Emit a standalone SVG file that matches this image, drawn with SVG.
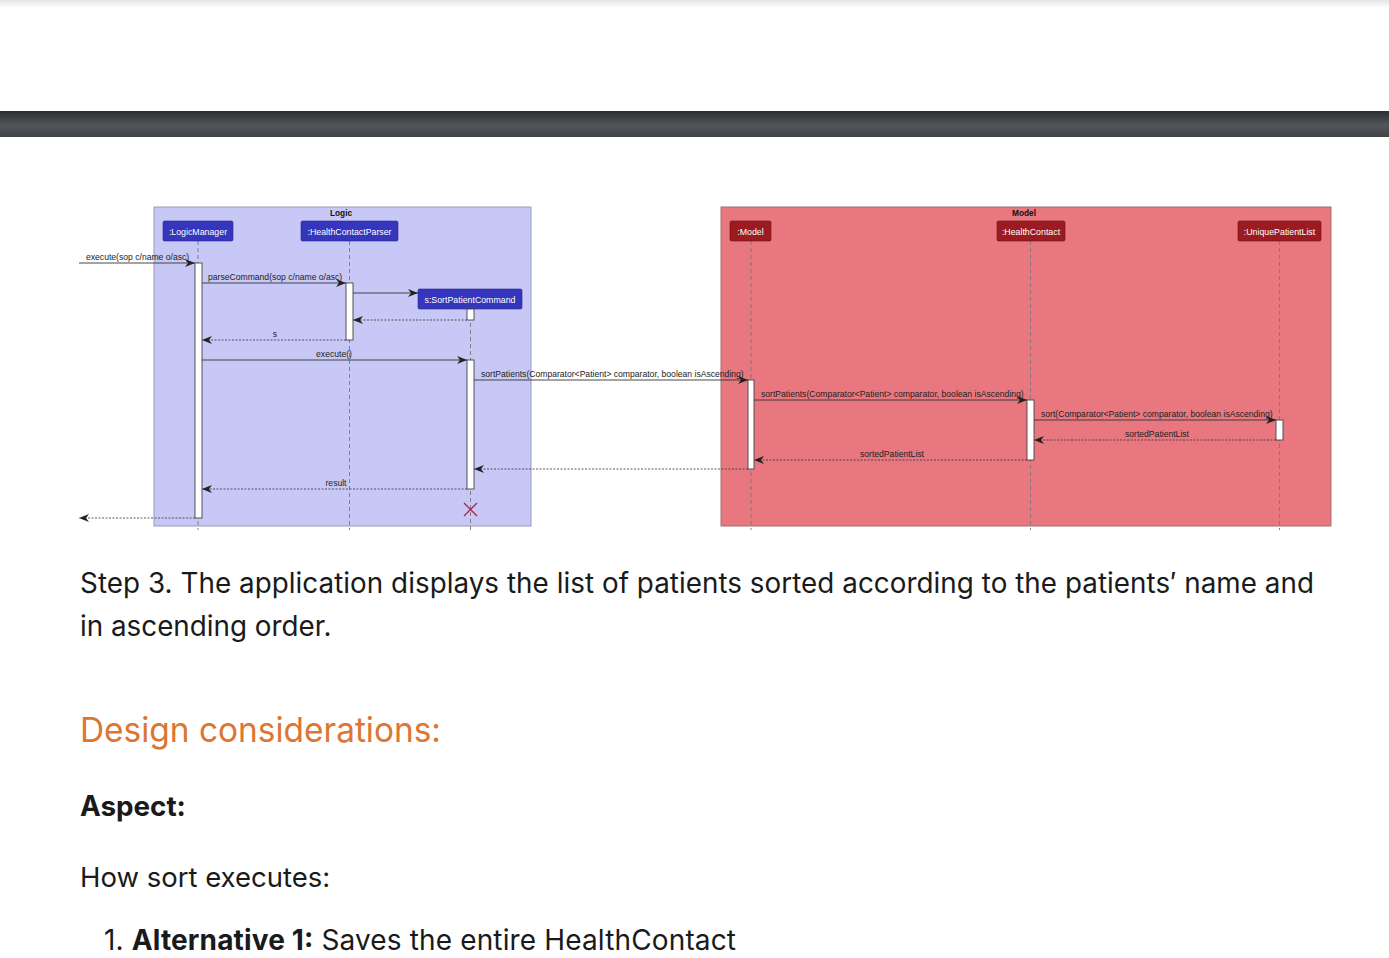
<svg xmlns="http://www.w3.org/2000/svg" width="1389" height="958" viewBox="0 0 1389 958">
<defs>
<linearGradient id="bar" x1="0" y1="0" x2="0" y2="1">
<stop offset="0" stop-color="#2c2d30"/>
<stop offset="0.55" stop-color="#52565a"/>
<stop offset="1" stop-color="#3f4245"/>
</linearGradient>
<linearGradient id="topshade" x1="0" y1="0" x2="0" y2="1">
<stop offset="0" stop-color="#e6e6e6"/>
<stop offset="1" stop-color="#ffffff"/>
</linearGradient>
<marker id="ah" viewBox="0 0 10 8" refX="10" refY="4" markerWidth="10" markerHeight="8" markerUnits="userSpaceOnUse" orient="auto">
<path d="M0,0 L10,4 L0,8 L3,4 z" fill="#222"/>
</marker>
</defs>
<style>
.lt{font-family:"Liberation Sans",Arial,sans-serif;font-size:8.6px;fill:#222}
.pt{font-family:"Liberation Sans",Arial,sans-serif;font-size:8.8px;fill:#fff}
.ttl{font-family:"Liberation Sans",Arial,sans-serif;font-size:8.3px;font-weight:bold;fill:#111}
.pl{fill:#3535bd;stroke:#2a2a90;stroke-width:0.6}
.pm{fill:#9b1b20;stroke:#701015;stroke-width:0.6}
.life{stroke:#777;stroke-width:0.9;stroke-dasharray:4 3;fill:none}
.act{fill:#fff;stroke:#444;stroke-width:0.9}
.msg{stroke:#333;stroke-width:0.9;fill:none;marker-end:url(#ah)}
.ret{stroke:#333;stroke-width:0.8;stroke-dasharray:2 1.5;fill:none;marker-end:url(#ah)}
.body{font-family:Inter,"Noto Sans",sans-serif;fill:#1a1a1a}
</style>
<rect x="0" y="0" width="1389" height="958" fill="#fff"/>
<rect x="0" y="0" width="1389" height="8" fill="url(#topshade)"/>
<rect x="0" y="111" width="1389" height="26" fill="url(#bar)"/>

<g id="logic-box">
<rect x="154" y="207" width="377" height="319" fill="#c8c8f6" stroke="#9a9ab8" stroke-width="1"/>
<text class="ttl" x="341" y="215.5" text-anchor="middle">Logic</text>
</g>
<g id="model-box">
<rect x="721" y="207" width="610" height="319" fill="#e8777f" stroke="#a07070" stroke-width="1"/>
<text class="ttl" x="1024" y="215.5" text-anchor="middle">Model</text>
</g>

<g id="lifelines">
<line class="life" x1="198" y1="241" x2="198" y2="530"/>
<line class="life" x1="349.5" y1="241" x2="349.5" y2="530"/>
<line class="life" x1="470.5" y1="309" x2="470.5" y2="530"/>
<line class="life" x1="751" y1="241" x2="751" y2="530"/>
<line class="life" x1="1030.5" y1="241" x2="1030.5" y2="530"/>
<line class="life" x1="1279.5" y1="241" x2="1279.5" y2="530"/>
</g>

<g id="LogicManager">
<rect class="pl" x="163" y="221" width="70" height="20" rx="1.5"/>
<text class="pt" x="198" y="234.5" text-anchor="middle">:LogicManager</text>
<rect class="act" x="195" y="263" width="7" height="255"/>
</g>
<g id="HealthContactParser">
<rect class="pl" x="301" y="221" width="97" height="20" rx="1.5"/>
<text class="pt" x="349.5" y="234.5" text-anchor="middle">:HealthContactParser</text>
<rect class="act" x="346" y="283" width="7" height="57"/>
</g>
<g id="SortPatientCommand">
<rect class="pl" x="418" y="289" width="104" height="20" rx="1.5"/>
<text class="pt" x="470" y="302.5" text-anchor="middle">s:SortPatientCommand</text>
<rect class="act" x="467" y="309" width="7" height="11"/>
<rect class="act" x="467" y="360" width="7" height="129"/>
<g stroke="#b0204a" stroke-width="1.3">
<line x1="464" y1="503" x2="477" y2="516"/>
<line x1="477" y1="503" x2="464" y2="516"/>
</g>
</g>
<g id="Model">
<rect class="pm" x="730" y="221" width="41" height="20" rx="1.5"/>
<text class="pt" x="750.5" y="234.5" text-anchor="middle">:Model</text>
<rect class="act" x="748" y="380" width="6" height="89"/>
</g>
<g id="HealthContact">
<rect class="pm" x="997" y="221" width="68" height="20" rx="1.5"/>
<text class="pt" x="1031" y="234.5" text-anchor="middle">:HealthContact</text>
<rect class="act" x="1027" y="400" width="7" height="60"/>
</g>
<g id="UniquePatientList">
<rect class="pm" x="1238" y="221" width="83" height="20" rx="1.5"/>
<text class="pt" x="1279.5" y="234.5" text-anchor="middle">:UniquePatientList</text>
<rect class="act" x="1276" y="420" width="7" height="20"/>
</g>

<g id="connectors">
<line class="msg" x1="79" y1="263" x2="195" y2="263"/>
<text class="lt" x="86" y="260">execute(sop c/name o/asc)</text>
<line class="msg" x1="202" y1="283" x2="346" y2="283"/>
<text class="lt" x="208" y="280">parseCommand(sop c/name o/asc)</text>
<line class="msg" x1="353" y1="293" x2="418" y2="293"/>
<line class="ret" x1="467" y1="320" x2="353" y2="320"/>
<line class="ret" x1="346" y1="340" x2="202" y2="340"/>
<text class="lt" x="275" y="337" text-anchor="middle">s</text>
<line class="msg" x1="202" y1="360" x2="467" y2="360"/>
<text class="lt" x="334" y="357" text-anchor="middle">execute()</text>
<line class="msg" x1="474" y1="380" x2="748" y2="380"/>
<text class="lt" x="481" y="377">sortPatients(Comparator&lt;Patient&gt; comparator, boolean isAscending)</text>
<line class="msg" x1="754" y1="400" x2="1027" y2="400"/>
<text class="lt" x="761" y="397">sortPatients(Comparator&lt;Patient&gt; comparator, boolean isAscending)</text>
<line class="msg" x1="1034" y1="420" x2="1276" y2="420"/>
<text class="lt" x="1041" y="417">sort(Comparator&lt;Patient&gt; comparator, boolean isAscending)</text>
<line class="ret" x1="1276" y1="440" x2="1034" y2="440"/>
<text class="lt" x="1157" y="437" text-anchor="middle">sortedPatientList</text>
<line class="ret" x1="1027" y1="460" x2="754" y2="460"/>
<text class="lt" x="892" y="457" text-anchor="middle">sortedPatientList</text>
<line class="ret" x1="748" y1="469" x2="474" y2="469"/>
<line class="ret" x1="467" y1="489" x2="202" y2="489"/>
<text class="lt" x="336" y="486" text-anchor="middle">result</text>
<line class="ret" x1="195" y1="518" x2="79" y2="518"/>
</g>

<g id="page-text">
<text class="body" x="80" y="593" font-size="27.8" textLength="1234" lengthAdjust="spacing">Step 3. The application displays the list of patients sorted according to the patients′ name and</text>
<text class="body" x="80" y="636" font-size="27.8">in ascending order.</text>
<text x="80" y="742" font-family="Inter,'Noto Sans',sans-serif" font-size="34" fill="#dc7632" textLength="361" lengthAdjust="spacingAndGlyphs">Design considerations:</text>
<text class="body" x="80" y="816" font-size="27.8" font-weight="bold">Aspect:</text>
<text class="body" x="80" y="887" font-size="27.5">How sort executes:</text>
<text class="body" x="104" y="950" font-size="28" textLength="632" lengthAdjust="spacing">1. <tspan font-weight="bold">Alternative 1:</tspan> Saves the entire HealthContact</text>
</g>
</svg>
